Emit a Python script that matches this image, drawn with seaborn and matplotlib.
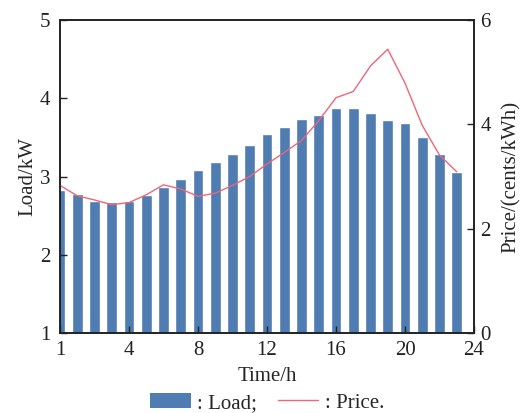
import numpy as np
import pandas as pd
import matplotlib
matplotlib.use("Agg")
import matplotlib.pyplot as plt
import seaborn as sns
from matplotlib.patches import Patch
from matplotlib.lines import Line2D

hours = list(range(24))
load = [2.83, 2.77, 2.69, 2.68, 2.69, 2.76, 2.86, 2.97, 3.08, 3.18, 3.29, 3.40,
        3.54, 3.63, 3.74, 3.79, 3.88, 3.87, 3.81, 3.72, 3.69, 3.51, 3.29, 3.06]
price = [2.83, 2.63, 2.55, 2.46, 2.50, 2.65, 2.84, 2.76, 2.62, 2.68, 2.83, 3.00,
         3.24, 3.46, 3.69, 4.07, 4.51, 4.63, 5.12, 5.44, 4.79, 3.98, 3.41, 3.09]
xtick_pos = [0, 4, 8, 12, 16, 20, 24]
xtick_labels = ["1", "4", "8", "12", "16", "20", "24"]

sns.set_theme(style="ticks")
plt.rcParams['font.family'] = ['Liberation Serif', 'DejaVu Serif']

bar_color = "#4f7cb1"
line_color = "#ef6676"
fs = 15

df = pd.DataFrame({"hour": hours, "load": load, "price": price})

fig = plt.figure(figsize=(5.25, 4.13), dpi=100)
ax = fig.add_axes([60/525, 1-333/413, (474-60)/525, (333-20)/413])

sns.barplot(data=df, x="hour", y="load", native_scale=True, width=0.63,
            color=bar_color, saturation=1, ax=ax)
ax.set_axisbelow(False)
ax.set_xlim(0, 24)
ax.set_ylim(1, 5)
ax.set_yticks([1, 2, 3, 4, 5])
ax.set_xticks(xtick_pos)
ax.set_xticklabels(xtick_labels)
ax.set_xlabel("Time/h", fontsize=fs, labelpad=5)
ax.set_ylabel("Load/kW", fontsize=fs, labelpad=2)
ax.tick_params(axis='both', direction='in', labelsize=fs, length=5, width=1, colors='#222222')
ax.tick_params(axis='x', pad=6)
ax.tick_params(axis='y', pad=7)

ax2 = ax.twinx()
sns.lineplot(data=df, x="hour", y="price", color=line_color, linewidth=1.0, ax=ax2)
ax2.set_ylim(0, 6)
ax2.set_yticks([0, 2, 4, 6])
ax2.set_ylabel("Price/(cents/kWh)", fontsize=fs, labelpad=8)
ax2.tick_params(axis='y', direction='in', labelsize=fs, length=5, width=1, colors='#222222', pad=4.5)
ax2.set_xlim(0, 24)

for a in (ax, ax2):
    for s in a.spines.values():
        s.set_visible(True)
        s.set_linewidth(1.2)
        s.set_color('#222222')

handles = [Patch(facecolor=bar_color, edgecolor='none'),
           Line2D([0], [0], color=line_color, linewidth=1.0)]
fig.legend(handles, [": Load;", ": Price."], loc='center', bbox_to_anchor=(267/525, 1-403/413),
           ncol=2, frameon=False, fontsize=fs, handlelength=1.95, handleheight=0.7,
           handletextpad=0.3, columnspacing=1.0, borderaxespad=0)

fig.savefig("out.png", dpi=100)
